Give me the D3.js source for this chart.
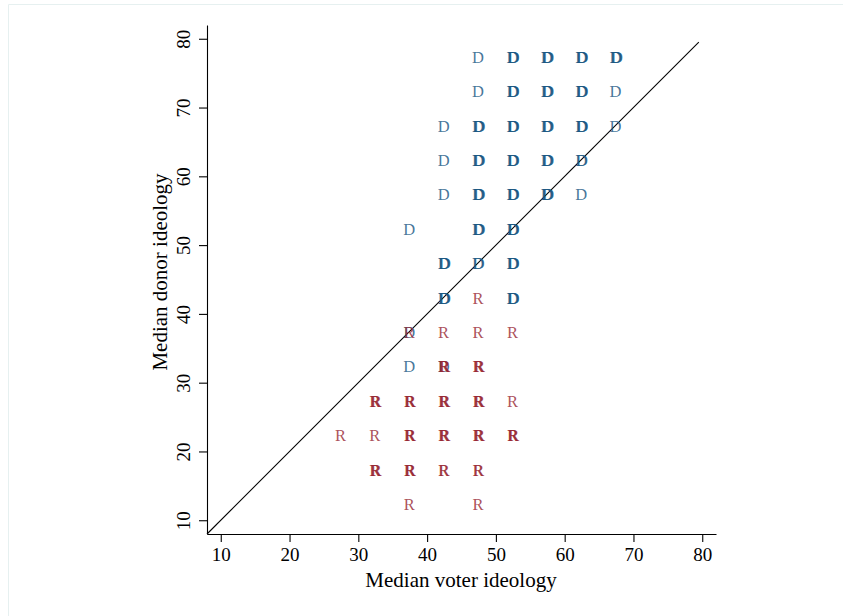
<!DOCTYPE html>
<html>
<head>
<meta charset="utf-8">
<script src="https://cdn.jsdelivr.net/npm/d3@7"></script>
<style>
  body { margin: 0; background: #fff; }
  svg text { font-family: "Liberation Serif", "Times New Roman", serif; }
</style>
</head>
<body>
<div id="chart"></div>
<script>
// Grid cells: [voter ideology, donor ideology, number of overlapping districts]
const demPoints = [
  [47.5, 77.5, 1], [52.5, 77.5, 3], [57.5, 77.5, 3], [62.5, 77.5, 3], [67.5, 77.5, 3],
  [47.5, 72.5, 1], [52.5, 72.5, 3], [57.5, 72.5, 3], [62.5, 72.5, 3], [67.5, 72.5, 1],
  [42.5, 67.5, 1], [47.5, 67.5, 3], [52.5, 67.5, 3], [57.5, 67.5, 3], [62.5, 67.5, 3], [67.5, 67.5, 1],
  [42.5, 62.5, 1], [47.5, 62.5, 3], [52.5, 62.5, 3], [57.5, 62.5, 3], [62.5, 62.5, 2],
  [42.5, 57.5, 1], [47.5, 57.5, 3], [52.5, 57.5, 3], [57.5, 57.5, 3], [62.5, 57.5, 1],
  [37.5, 52.5, 1], [47.5, 52.5, 3], [52.5, 52.5, 3],
  [42.5, 47.5, 3], [47.5, 47.5, 2], [52.5, 47.5, 3],
  [42.5, 42.5, 3], [52.5, 42.5, 3],
  [37.5, 37.5, 1],
  [37.5, 32.5, 1], [42.5, 32.5, 1]
];
const repPoints = [
  [47.5, 42.5, 1],
  [37.5, 37.5, 1], [42.5, 37.5, 1], [47.5, 37.5, 1], [52.5, 37.5, 1],
  [42.5, 32.5, 3], [47.5, 32.5, 3],
  [32.5, 27.5, 3], [37.5, 27.5, 3], [42.5, 27.5, 3], [47.5, 27.5, 3], [52.5, 27.5, 1],
  [27.5, 22.5, 1], [32.5, 22.5, 1], [37.5, 22.5, 3], [42.5, 22.5, 3], [47.5, 22.5, 3], [52.5, 22.5, 3],
  [32.5, 17.5, 3], [37.5, 17.5, 3], [42.5, 17.5, 2], [47.5, 17.5, 2],
  [37.5, 12.5, 1], [47.5, 12.5, 1]
];
const tickValues = [10, 20, 30, 40, 50, 60, 70, 80];
const axisDomain = [8, 82];
const diagonal = [8, 79.5];

const W = 843, H = 616;
const svg = d3.select("#chart").append("svg")
    .attr("width", W)
    .attr("height", H);

// faint outer frame
svg.append("path")
    .attr("d", "M8.5,616 V4.5 H843")
    .attr("fill", "none")
    .attr("stroke", "#e6f0f0")
    .attr("stroke-width", 1);

const x = d3.scaleLinear().domain(axisDomain).range([207, 716]);
const y = d3.scaleLinear().domain(axisDomain).range([534, 25]);

// 45 degree reference line
svg.append("line")
    .attr("x1", x(diagonal[0])).attr("y1", y(diagonal[0]))
    .attr("x2", x(diagonal[1])).attr("y2", y(diagonal[1]))
    .attr("stroke", "#000")
    .attr("stroke-width", 1.1);

// letter markers, one copy per overlapping district
function drawLetters(points, letter, color) {
    const copies = [];
    points.forEach(p => {
        for (let i = 0; i < p[2]; i++) copies.push({vx: p[0], vy: p[1], i: i});
    });
    svg.append("g")
      .selectAll("text")
      .data(copies)
      .join("text")
        .attr("x", d => x(d.vx) + d.i * 0.7 - 0.7)
        .attr("y", d => y(d.vy))
        .attr("dy", "0.42em")
        .attr("text-anchor", "middle")
        .attr("font-size", 16.5)
        .attr("fill", color)
        .attr("fill-opacity", 0.8)
        .text(letter);
}
drawLetters(demPoints, "D", "#16547f");
drawLetters(repPoints, "R", "#962530");

// axes
const xAxis = svg.append("g")
    .attr("transform", "translate(0,534)")
    .call(d3.axisBottom(x).tickValues(tickValues).tickSize(8).tickSizeOuter(0).tickPadding(6));
xAxis.selectAll("text").attr("font-size", 19).attr("fill", "#000");

const yAxis = svg.append("g")
    .attr("transform", "translate(207,0)")
    .call(d3.axisLeft(y).tickValues(tickValues).tickSize(8).tickSizeOuter(0));
yAxis.selectAll("text")
    .attr("x", null).attr("dy", null)
    .attr("text-anchor", "middle")
    .attr("transform", "translate(-17,0) rotate(-90)")
    .attr("font-size", 19)
    .attr("fill", "#000");

svg.selectAll(".domain, .tick line").attr("stroke", "#000").attr("stroke-width", 1.1);
svg.selectAll(".tick text").attr("font-family", "Liberation Serif, Times New Roman, serif");

// axis titles
svg.append("text")
    .attr("x", 461)
    .attr("y", 587)
    .attr("text-anchor", "middle")
    .attr("font-size", 21)
    .text("Median voter ideology");

svg.append("text")
    .attr("transform", "translate(167,272) rotate(-90)")
    .attr("text-anchor", "middle")
    .attr("font-size", 21)
    .text("Median donor ideology");
</script>
</body>
</html>
